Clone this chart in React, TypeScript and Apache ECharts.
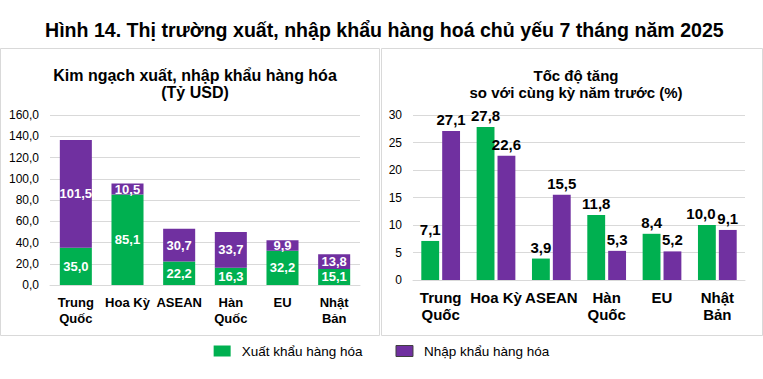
import React, { useEffect, useRef } from "react";
import * as echarts from "echarts";

const categories = ["Trung\nQuốc", "Hoa Kỳ", "ASEAN", "Hàn\nQuốc", "EU", "Nhật\nBản"];
const exportValue = [35.0, 85.1, 22.2, 16.3, 32.2, 15.1];
const importValue = [101.5, 10.5, 30.7, 33.7, 9.9, 13.8];
const exportGrowth = [7.1, 27.8, 3.9, 11.8, 8.4, 10.0];
const importGrowth = [27.1, 22.6, 15.5, 5.3, 5.2, 9.1];
const seriesNames = ["Xuất khẩu hàng hóa", "Nhập khẩu hàng hóa"];
const mainTitle = "Hình 14. Thị trường xuất, nhập khẩu hàng hoá chủ yếu 7 tháng năm 2025";

const GREEN = "#00B050";
const PURPLE = "#7030A0";
const FONT = "'Liberation Sans', Arial, sans-serif";
const comma1 = (v: number) => v.toFixed(1).replace(".", ",");

export default function App() {
  const ref = useRef<HTMLDivElement>(null);
  useEffect(() => {
    if (!ref.current) return;
    const chart = echarts.init(ref.current, undefined, { renderer: "svg" });

    // measure title width to compress it like a narrow font
    const titleFont = "bold 21px 'Liberation Sans', Arial, sans-serif";
    let titleScale = 0.85;
    try {
      const cv = document.createElement("canvas");
      const ctx = cv.getContext("2d");
      if (ctx) {
        ctx.font = titleFont;
        const w = ctx.measureText(mainTitle).width;
        if (w > 0) titleScale = 679 / w;
      }
    } catch (e) {}

    const xLabelLeft = { fontFamily: FONT, fontSize: 13, fontWeight: "bold" as const, color: "#000", lineHeight: 16, margin: 9, interval: 0 };
    const xLabelRight = { fontFamily: FONT, fontSize: 15, fontWeight: "bold" as const, color: "#000", lineHeight: 17, margin: 9, interval: 0 };
    const growthLabel = { show: true, position: "top" as const, distance: 4, color: "#000", fontFamily: FONT, fontSize: 15, fontWeight: "bold" as const, formatter: (p: any) => comma1(p.value) };

    chart.setOption({
      animation: false,
      backgroundColor: "#fff",
      textStyle: { fontFamily: FONT },
      title: [
        {
          text: "Kim ngạch xuất, nhập khẩu hàng hóa\n(Tỷ USD)",
          left: 190,
          textAlign: "center",
          top: 62,
          textStyle: { fontFamily: FONT, fontSize: 16, fontWeight: "bold", color: "#000", lineHeight: 17 },
        },
        {
          text: "Tốc độ tăng\nso với cùng kỳ năm trước (%)",
          left: 571,
          textAlign: "center",
          top: 62,
          textStyle: { fontFamily: FONT, fontSize: 15, fontWeight: "bold", color: "#000", lineHeight: 17 },
        },
      ],
      graphic: [
        {
          type: "text", x: 45, y: 30, scaleX: titleScale, silent: true,
          style: { text: mainTitle, font: titleFont, fill: "#000", align: "left", verticalAlign: "middle" },
        },
        { type: "rect", shape: { x: 0.5, y: 48.5, width: 379, height: 287 }, style: { fill: "none", stroke: "#d9d9d9", lineWidth: 1 }, silent: true },
        { type: "rect", shape: { x: 381.5, y: 48.5, width: 381, height: 287 }, style: { fill: "none", stroke: "#d9d9d9", lineWidth: 1 }, silent: true },
      ],
      legend: {
        bottom: 16,
        left: "center",
        itemWidth: 17,
        itemHeight: 11,
        itemGap: 33,
        icon: "rect",
        textStyle: { fontFamily: FONT, fontSize: 13.5, color: "#000", padding: [0, 0, 0, 6] },
        data: [
          { name: seriesNames[0] },
          { name: seriesNames[1], itemStyle: { borderColor: "#404040", borderWidth: 1 } },
        ],
      },
      grid: [
        { left: 50, width: 310, top: 115, height: 170, containLabel: false },
        { left: 413, width: 332, top: 115, height: 165, containLabel: false },
      ],
      xAxis: [
        { type: "category", gridIndex: 0, data: categories, axisTick: { show: false }, axisLine: { lineStyle: { color: "#d9d9d9" } }, axisLabel: xLabelLeft },
        { type: "category", gridIndex: 1, data: categories, axisTick: { show: false }, axisLine: { lineStyle: { color: "#d9d9d9" } }, axisLabel: xLabelRight },
      ],
      yAxis: [
        {
          type: "value", gridIndex: 0, min: 0, max: 160, interval: 20,
          splitLine: { lineStyle: { color: "#d9d9d9" } },
          axisLabel: { fontFamily: FONT, fontSize: 12, color: "#000", margin: 11, formatter: comma1 },
        },
        {
          type: "value", gridIndex: 1, min: 0, max: 30, interval: 5,
          splitLine: { lineStyle: { color: "#d9d9d9" } },
          axisLabel: { fontFamily: FONT, fontSize: 12, color: "#000", margin: 11 },
        },
      ],
      series: [
        {
          name: seriesNames[0], type: "bar", stack: "kn", xAxisIndex: 0, yAxisIndex: 0, data: exportValue,
          itemStyle: { color: GREEN }, barCategoryGap: "38%",
          label: { show: true, position: "inside", color: "#fff", fontFamily: FONT, fontSize: 13, fontWeight: "bold", formatter: (p: any) => comma1(p.value) },
        },
        {
          name: seriesNames[1], type: "bar", stack: "kn", xAxisIndex: 0, yAxisIndex: 0, data: importValue,
          itemStyle: { color: PURPLE }, barCategoryGap: "38%",
          label: { show: true, position: "inside", color: "#fff", fontFamily: FONT, fontSize: 13, fontWeight: "bold", formatter: (p: any) => comma1(p.value) },
        },
        {
          name: seriesNames[0], type: "bar", xAxisIndex: 1, yAxisIndex: 1,
          data: exportGrowth.map((v, i) => (i === exportGrowth.length - 1 ? { value: v, label: { offset: [-6, 0] } } : v)),
          itemStyle: { color: GREEN }, barGap: "17%", barCategoryGap: "30%",
          label: growthLabel,
        },
        {
          name: seriesNames[1], type: "bar", xAxisIndex: 1, yAxisIndex: 1, data: importGrowth,
          itemStyle: { color: PURPLE }, barGap: "17%", barCategoryGap: "30%",
          label: growthLabel,
        },
      ],
    });
    return () => chart.dispose();
  }, []);
  return <div ref={ref} style={{ position: "fixed", left: 0, top: 0, width: 763, height: 379 }} />;
}
